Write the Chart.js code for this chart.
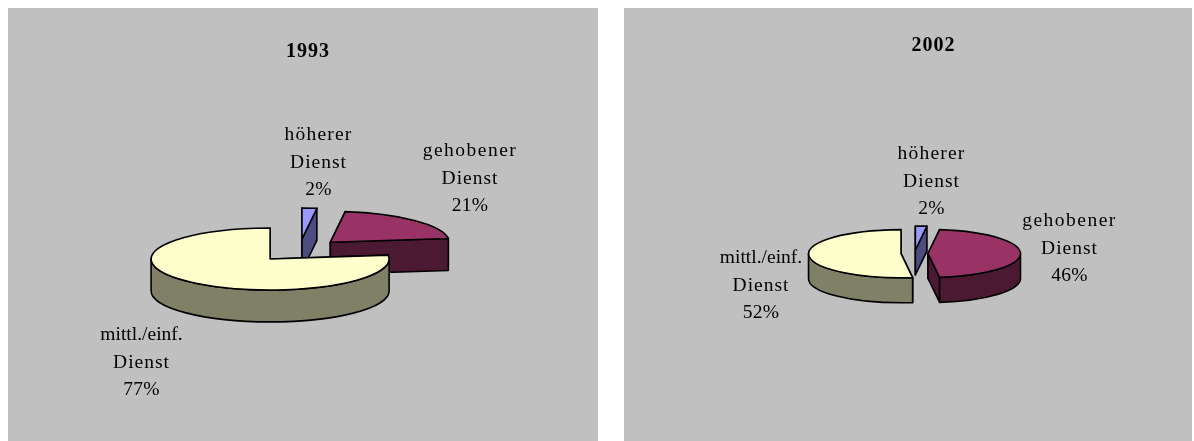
<!DOCTYPE html>
<html lang="de">
<head>
  <meta charset="UTF-8">
  <title>Dienst 1993 / 2002</title>
  <script src="https://cdn.jsdelivr.net/npm/chart.js"></script>
  <style>
    html, body { margin: 0; background: #fff; }
    body { position: relative; width: 1194px; height: 441px; overflow: hidden; }
    .panel { position: absolute; top: 8px; background: #c0c0c0; }
    #panel1993 { left: 8px; width: 590px; height: 433px; }
    #panel2002 { left: 624px; width: 568px; height: 433px; }
    canvas { display: block; }
  </style>
</head>
<body>
  <div class="panel" id="panel1993"><canvas id="chart1993"></canvas></div>
  <div class="panel" id="panel2002"><canvas id="chart2002"></canvas></div>

  <script>
    const categories = [['höherer', 'Dienst'], ['gehobener', 'Dienst'], ['mittl./einf.', 'Dienst']];
    const values1993 = [2, 21, 77];
    const values2002 = [2, 46, 52];

    const topColors = ['#9999ff', '#993366', '#ffffcc'];
    const sideColors = ['#4c4c80', '#4c1933', '#808066'];
    const LABEL_FONT = '19.5px "Liberation Serif"';
    const TITLE_FONT = 'bold 20px "Liberation Serif"';
    // the labels in the picture are spaced unevenly, so per row
    const firstRowSpacing = ['1.2px', '1.5px', '0px'];

    // pie seen at an angle: squash the arcs the library laid out and give them a wall
    const pie3d = {
      id: 'pie3d',
      beforeDatasetDraw(chart, args, opts) {
        const ctx = chart.ctx;
        const arcs = args.meta.data;
        arcs.forEach((arc, i) => drawSlice(ctx, arc, i, opts));
        return false;
      },
      afterDraw(chart, args, opts) {
        const ctx = chart.ctx;
        ctx.save();
        ctx.fillStyle = '#000';
        ctx.textAlign = 'center';
        ctx.textBaseline = 'alphabetic';
        ctx.font = TITLE_FONT;
        ctx.letterSpacing = '1px';
        ctx.fillText(opts.title, opts.titlePos[0], opts.titlePos[1]);
        ctx.font = LABEL_FONT;
        const values = chart.data.datasets[0].data;
        categories.forEach((lines, i) => {
          const [x, y] = opts.labelPos[i];
          ctx.letterSpacing = firstRowSpacing[i];
          ctx.fillText(lines[0], x, y);
          ctx.letterSpacing = '1px';
          ctx.fillText(lines[1], x, y + opts.lineGap);
          ctx.letterSpacing = '0.2px';
          ctx.fillText(values[i] + '%', x, y + 2 * opts.lineGap);
        });
        ctx.restore();
      }
    };

    function drawSlice(ctx, arc, i, opts) {
      const { startAngle, endAngle, outerRadius, x, y } = arc;
      const mid = (startAngle + endAngle) / 2;
      const cx = x + Math.cos(mid) * arc.options.offset;
      const cy = y + Math.sin(mid) * arc.options.offset * opts.squash;
      const rx = outerRadius;
      const ry = outerRadius * opts.squash;
      const d = opts.depth;

      ctx.save();
      ctx.lineWidth = 1.6;
      ctx.lineJoin = 'round';
      ctx.strokeStyle = '#000';

      // cut faces first, whatever is hidden gets painted over by the rest
      ctx.fillStyle = sideColors[i];
      [startAngle, endAngle].forEach(a => {
        const px = cx + Math.cos(a) * rx;
        const py = cy + Math.sin(a) * ry;
        ctx.beginPath();
        ctx.moveTo(cx, cy);
        ctx.lineTo(px, py);
        ctx.lineTo(px, py + d);
        ctx.lineTo(cx, cy + d);
        ctx.closePath();
        ctx.fill();
        ctx.stroke();
      });

      // outer wall, only the part facing the viewer
      const from = Math.max(startAngle, 0);
      const to = Math.min(endAngle, Math.PI);
      if (to > from) {
        ctx.beginPath();
        ctx.ellipse(cx, cy, rx, ry, 0, from, to);
        ctx.ellipse(cx, cy + d, rx, ry, 0, to, from, true);
        ctx.closePath();
        ctx.fill();
        ctx.stroke();
      }

      // top face
      ctx.fillStyle = topColors[i];
      ctx.beginPath();
      ctx.moveTo(cx, cy);
      ctx.ellipse(cx, cy, rx, ry, 0, startAngle, endAngle);
      ctx.closePath();
      ctx.fill();
      ctx.stroke();
      ctx.restore();
    }

    function makePie(id, values, panel) {
      const canvas = document.getElementById(id);
      return new Chart(canvas, {
        type: 'pie',
        data: {
          labels: categories.map(c => c.join(' ')),
          datasets: [{ data: values, backgroundColor: topColors, offset: panel.explode, radius: panel.radius }]
        },
        options: {
          responsive: false,
          animation: false,
          layout: { padding: panel.padding },
          plugins: {
            legend: { display: false },
            tooltip: { enabled: false },
            pie3d: panel.pie
          }
        },
        plugins: [pie3d]
      });
    }

    document.getElementById('chart1993').width = 590;
    document.getElementById('chart1993').height = 433;
    document.getElementById('chart2002').width = 568;
    document.getElementById('chart2002').height = 433;

    makePie('chart1993', values1993, {
      explode: 44,
      radius: 119,
      padding: { left: 0, right: 7.6, top: 51.8, bottom: 0 },
      pie: {
        squash: 0.26, depth: 32, lineGap: 27.7,
        title: '1993', titlePos: [300, 49],
        labelPos: [[310.5, 132], [462, 148], [133.5, 332]]
      }
    });

    makePie('chart2002', values2002, {
      explode: 13.5,
      radius: 92.5,
      padding: { left: 13, right: 0, top: 58, bottom: 0 },
      pie: {
        squash: 0.26, depth: 25, lineGap: 27.7,
        title: '2002', titlePos: [309.5, 43],
        labelPos: [[307.5, 151], [445.5, 218], [137, 255]]
      }
    });
  </script>
</body>
</html>
